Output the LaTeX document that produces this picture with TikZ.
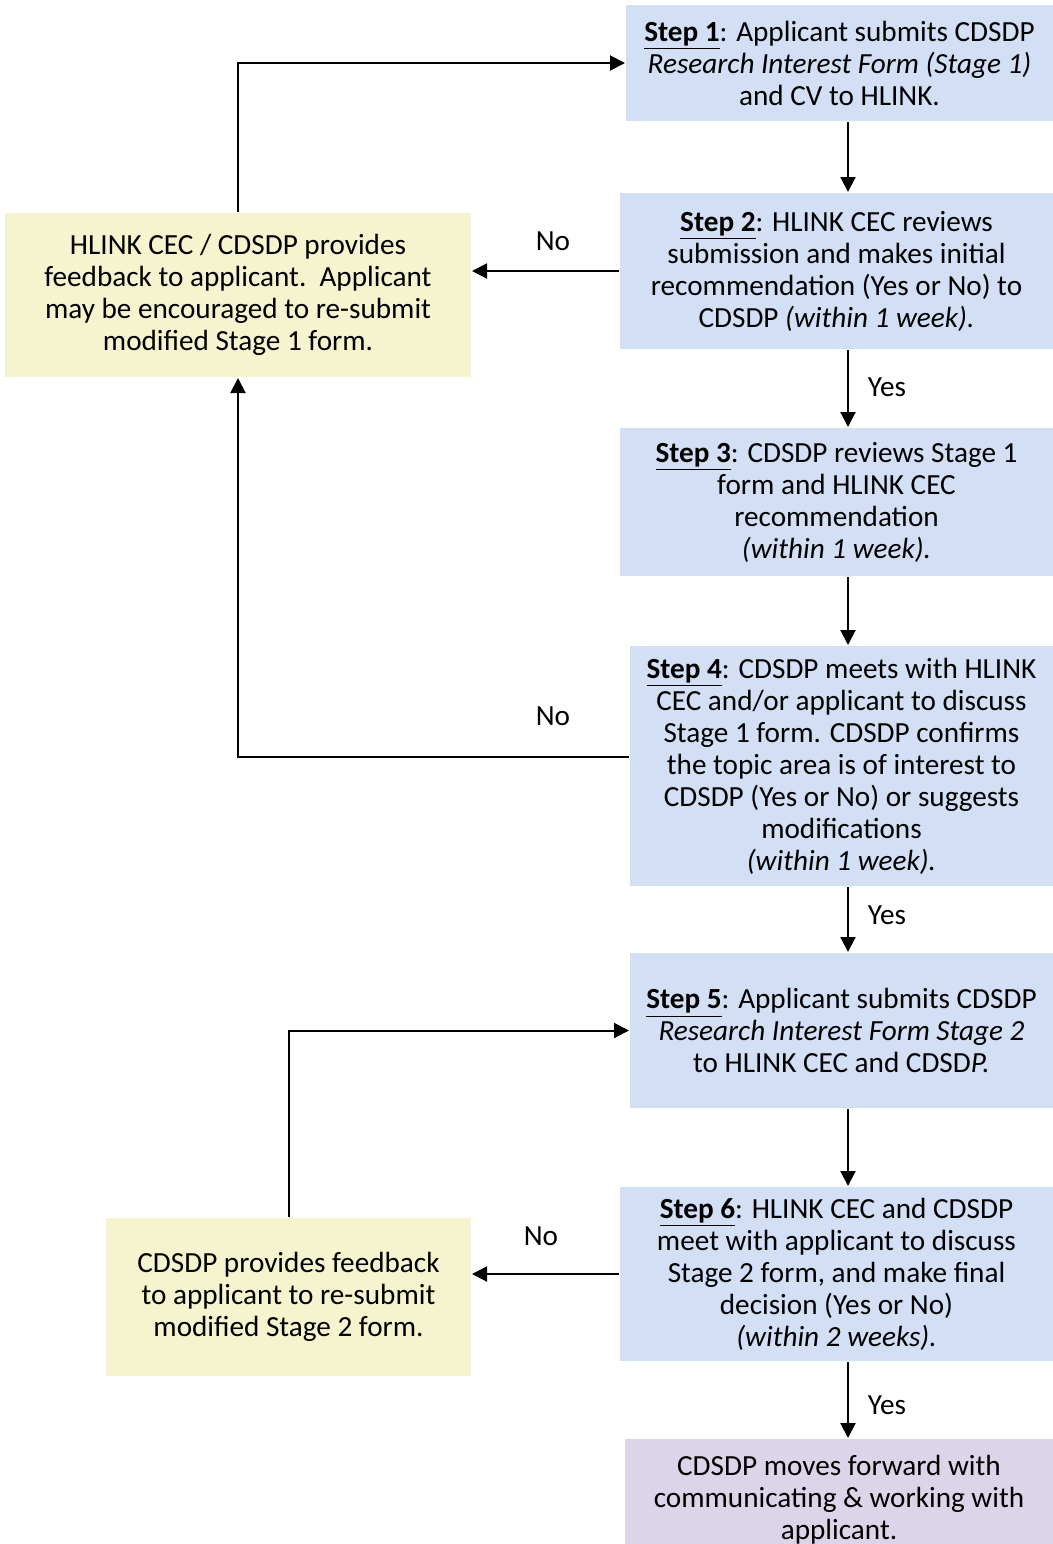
\documentclass[tikz,border=0pt]{standalone}
\usepackage{fontspec}
\setmainfont{Carlito}
\usetikzlibrary{arrows.meta}
\definecolor{stepblue}{RGB}{210,223,245}
\definecolor{fbyellow}{RGB}{245,244,206}
\definecolor{donepurple}{RGB}{220,213,234}
\tikzset{
  stepbox/.style={fill=stepblue,align=center,inner sep=0pt},
  fbbox/.style={fill=fbyellow,align=center,inner sep=0pt},
  donebox/.style={fill=donepurple,align=center,inner sep=0pt},
  lbl/.style={inner sep=0pt}
}
\newcommand{\stp}[1]{\underline{\textbf{Step #1}}}

\begin{document}
\begin{tikzpicture}[x=0.5pt,y=-0.5pt,line width=1pt,>={Triangle[length=7.5pt,width=7.5pt]},font=\fontsize{14.6}{16}\selectfont]
\useasboundingbox (0,0) rectangle (1053,1544);
\coordinate (axis) at (848,0);

\node[stepbox,minimum width=213.5pt,minimum height=58pt] (s1) at (839.5,63)
  {\stp{1}: Applicant submits CDSDP\\ \textit{Research Interest Form (Stage 1)}\\ and CV to HLINK.};
\node[stepbox,minimum width=216.5pt,minimum height=78pt] (s2) at (836.5,271)
  {\stp{2}: HLINK CEC reviews\\ submission and makes initial\\ recommendation (Yes or No) to\\ CDSDP \textit{(within 1 week).}};
\node[stepbox,minimum width=216.5pt,minimum height=74pt] (s3) at (836.5,502)
  {\stp{3}: CDSDP reviews Stage 1\\ form and HLINK CEC\\ recommendation\\ \textit{(within 1 week).}};
\node[stepbox,minimum width=211.5pt,minimum height=120pt] (s4) at (841.5,766)
  {\stp{4}: CDSDP meets with HLINK\\ CEC and/or applicant to discuss\\ Stage 1 form. CDSDP confirms\\ the topic area is of interest to\\ CDSDP (Yes or No) or suggests\\ modifications\\ \textit{(within 1 week).}};
\node[stepbox,minimum width=211.5pt,minimum height=77.5pt] (s5) at (841.5,1030.5)
  {\stp{5}: Applicant submits CDSDP\\ \textit{Research Interest Form Stage 2}\\ to HLINK CEC and CDSD\textit{P.}};
\node[stepbox,minimum width=216.5pt,minimum height=87pt] (s6) at (836.5,1274)
  {\stp{6}: HLINK CEC and CDSDP\\ meet with applicant to discuss\\ Stage 2 form, and make final\\ decision (Yes or No)\\ \textit{(within 2 weeks).}};
\node[donebox,minimum width=214pt,minimum height=60.5pt] (done) at (839,1499.5)
  {CDSDP moves forward with\\ communicating \& working with\\ applicant.};
\node[fbbox,minimum width=233pt,minimum height=82pt] (fb1) at (238,295)
  {HLINK CEC / CDSDP provides\\ feedback to applicant.\ \ Applicant\\ may be encouraged to re-submit\\ modified Stage 1 form.};
\node[fbbox,minimum width=182.5pt,minimum height=79pt] (fb2) at (288.5,1297)
  {CDSDP provides feedback\\ to applicant to re-submit\\ modified Stage 2 form.};

\draw[->] (s1.south -| axis) -- (s2.north -| axis);
\draw[->] (s2.south -| axis) -- (s3.north -| axis) node[lbl] at (887,387) {Yes};
\draw[->] (s3.south -| axis) -- (s4.north -| axis);
\draw[->] (s4.south -| axis) -- (s5.north -| axis) node[lbl] at (887,915) {Yes};
\draw[->] (s5.south -| axis) -- (s6.north -| axis);
\draw[->] (s6.south -| axis) -- (done.north -| axis) node[lbl] at (887,1405) {Yes};

\draw[->] (s2.west) -- (fb1.east |- s2.west) node[lbl] at (553,241) {No};
\draw[->] ([yshift=4.5pt]s4.west) -| (fb1.south) node[lbl] at (553,716) {No};
\draw[->] (fb1.north) |- (s1.west);
\draw[->] (s6.west) -- (fb2.east |- s6.west) node[lbl] at (541,1236) {No};
\draw[->] (fb2.north) |- (s5.west);
\end{tikzpicture}
\end{document}
